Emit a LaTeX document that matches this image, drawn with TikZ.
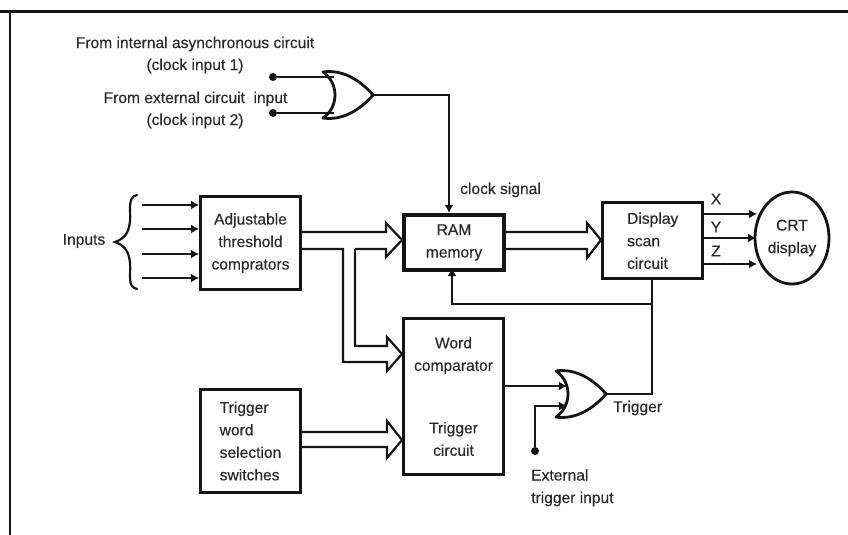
\documentclass[tikz,border=0pt]{standalone}
\usepackage{fontspec}
\setmainfont{Liberation Sans}[FakeBold=0.25]
\usetikzlibrary{arrows.meta,shapes.geometric}
\definecolor{ink}{HTML}{141414}
\definecolor{txt}{HTML}{2A2A2A}
\newcommand{\fs}{\fontsize{15.6}{22.5}\selectfont}
\newcommand{\orgate}[2]{%
  \begin{scope}[shift={(#2)}]
    \draw[gate] (-50,-23) .. controls (-30,-26) and (-12,-14) .. (0,0)
      .. controls (-12,14) and (-30,26) .. (-50,23)
      .. controls (-34,12) and (-34,-12) .. (-50,-23) -- cycle;
    \coordinate (#1in1) at (-39,-18);
    \coordinate (#1in2) at (-39,18);
    \coordinate (#1in1b) at (-39,-8);
    \coordinate (#1in2b) at (-39,12);
    \coordinate (#1out) at (0,0);
  \end{scope}}
\newcommand{\hollow}[7]{%
  \draw[wire,line join=miter] #1 -- #3 -- #6 -- #5 -- #7 -- #4 -- #2;}
\tikzset{
  x=1pt,y=-1pt,
  every node/.style={text=txt,font=\fs,inner sep=0pt},
  box/.style={draw=ink,line width=3pt,fill=white,align=center,anchor=north west},
  wire/.style={draw=ink,line width=2.2pt},
  sig/.style={wire,-{Latex[length=8pt,width=9pt]}},
  gate/.style={draw=ink,line width=2.8pt,fill=white,line join=round},
  term/.style={circle,fill=ink,minimum size=8pt},
  lab/.style={align=center}
}
\begin{document}
\begin{tikzpicture}
\useasboundingbox (0,0) rectangle (848,535);
\fill[white] (0,0) rectangle (848,535);
\draw[ink,line width=3.6pt] (0,11.5) -- (848,11.5);
\draw[ink,line width=2pt] (10,11.5) -- (10,535);

% text labels
\node[lab] (l1) at (195,44) {From internal asynchronous circuit};
\node[lab] (l2) at (195,66) {(clock input 1)};
\node[lab] (l3) at (195.5,99) {From external circuit\ \ input};
\node[lab] (l4) at (195,121) {(clock input 2)};
\node[lab] (inp) at (84,241) {Inputs};
\node[lab,anchor=west] (clk) at (460,190) {clock signal};
\node[lab,anchor=west] (trg) at (613,408) {Trigger};
\node[align=left,anchor=north west] (ext) at (531,469) {External\\trigger input};
\node[lab] (lx) at (716,199) {X};
\node[lab] (ly) at (716,227) {Y};
\node[lab] (lz) at (716,251) {Z};

% boxes
\node[box,minimum width=100pt,minimum height=93pt] (adj) at (199,195) {Adjustable\\threshold\\comprators};
\node[box,line width=4pt,minimum width=100pt,minimum height=55pt] (ram) at (402,213) {RAM\\memory};
\node[box,line width=3.4pt,minimum width=100pt,minimum height=76pt,align=left] (disp) at (601,201) {Display\\scan\\circuit};
\node[box,minimum width=100pt,minimum height=156pt] (word) at (402,317) {Word\\comparator\\[40pt]Trigger\\circuit};
\node[box,minimum width=100pt,minimum height=103pt,align=left] (sw) at (199,388) {Trigger\\word\\selection\\switches};
\node[draw=ink,line width=2.8pt,ellipse,minimum width=74pt,minimum height=92pt,align=center,fill=white] (crt) at (792,238) {CRT\\display};

% top OR gate
\orgate{a}{373,95}
\node[term] (t1) at (273,77) {};
\node[term] (t2) at (273,113) {};
\draw[wire] (t1) -- (ain1);
\draw[wire] (t2) -- (ain2);
\draw[sig] (aout) -| (ram.north -| 449,213);

% inputs
\draw[wire,line cap=round] (137,195) .. controls (127,197) and (131,211) .. (130,221)
  .. controls (129,233) and (124,239) .. (115,242)
  .. controls (124,245) and (129,251) .. (130,263)
  .. controls (131,275) and (127,287) .. (137,289);
\foreach \n/\y in {1/205,2/229,3/254,4/278}{
  \coordinate (s\n) at (142,\y);
  \draw[sig] (s\n) -- (s\n -| adj.west);
}

% hollow buses
\hollow{(300,232)}{(355,249)}{(386,232)}{(386,249)}{(402,240)}{(386,223)}{(386,257)}
\draw[wire] (300,249) -- (343,249) -- (343,362) -- (387,362) -- (387,371) -- (402,354) -- (387,337) -- (387,346) -- (355,346) -- (355,249);
\hollow{(300,432)}{(300,447)}{(387,432)}{(387,447)}{(402,440)}{(387,421)}{(387,458)}
\hollow{(503,232)}{(503,249)}{(587,232)}{(587,249)}{(601,240)}{(587,223)}{(587,258)}

% XYZ
\draw[sig,line width=2.8pt] (701,214) -- (757,214);
\draw[sig] (701,238) -- (756,238);
\draw[sig] (701,264) -- (757,264);

% lower OR gate
\orgate{b}{606,394}
\node[term] (t3) at (535,451) {};
\draw[sig] (word.east |- bin1b) -- (bin1b);
\draw[sig] (t3) |- (bin2b);
\draw[wire] (bout) -- (652,394) -- (652,277);
\draw[sig] (652,304) -- (452,304) -- (452,268);
\end{tikzpicture}
\end{document}
